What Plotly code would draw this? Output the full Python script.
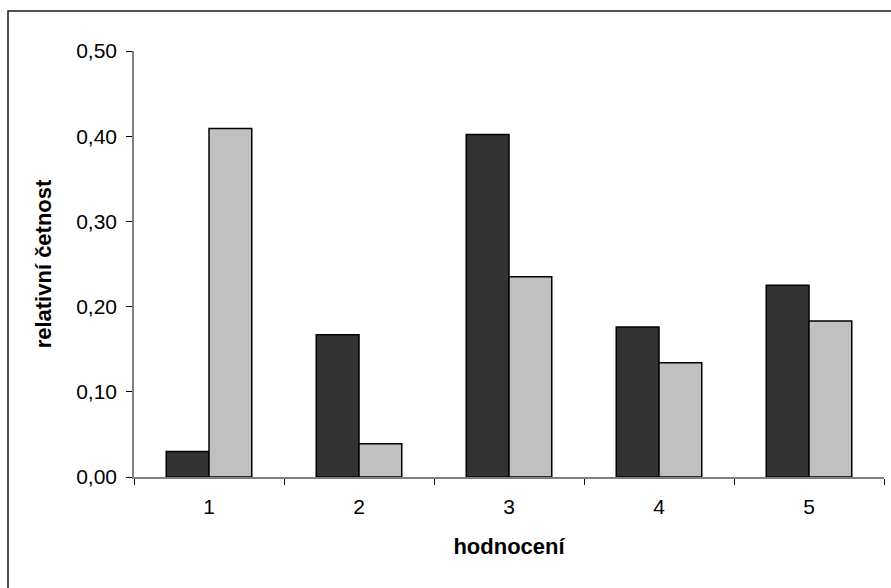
import plotly.graph_objects as go

categories = ["1", "2", "3", "4", "5"]
series_dark = [0.030, 0.167, 0.402, 0.176, 0.225]
series_light = [0.409, 0.039, 0.235, 0.134, 0.183]
y_ticks = [0.0, 0.1, 0.2, 0.3, 0.4, 0.5]

W, H = 891, 588
L, R, T, B = 134, 7, 51, 111
pw, ph = W - L - R, H - T - B

fig = go.Figure()
fig.add_trace(go.Bar(x=categories, y=series_dark, marker=dict(color="#333333", line=dict(color="#000000", width=1.5)), showlegend=False))
fig.add_trace(go.Bar(x=categories, y=series_light, marker=dict(color="#C0C0C0", line=dict(color="#000000", width=1.5)), showlegend=False))

tick_font = dict(family="Liberation Sans, Arial, sans-serif", size=21, color="#000000")
title_font = dict(family="Liberation Sans, Arial, sans-serif", size=22, color="#000000")

def px_x(p):
    return (p - L) / pw

def px_y(p):
    return (H - B - p) / ph

fig.update_layout(
    width=W, height=H,
    margin=dict(l=L, r=R, t=T, b=B, pad=0),
    paper_bgcolor="white", plot_bgcolor="white",
    barmode="group", bargap=0.43, bargroupgap=0.0,
    separators=", ",
    font=tick_font,
    xaxis=dict(type="category", showline=True, linecolor="#808080", linewidth=1.5,
               ticks="outside", tickson="boundaries", ticklen=6, tickcolor="#000000",
               showgrid=False, tickfont=tick_font, ticklabelstandoff=10,
               title=dict(text="<b>hodnocení</b>", font=title_font, standoff=22)),
    yaxis=dict(range=[0, 0.5], tickvals=y_ticks, tickformat=".2f", showline=True,
               linecolor="#808080", linewidth=1.5, ticks="outside", ticklen=6, tickcolor="#000000",
               showgrid=False, zeroline=False, tickfont=tick_font, ticklabelstandoff=5,
               title=dict(text="<b>relativní četnost</b>", font=title_font, standoff=18)),
    shapes=[dict(type="rect", xref="paper", yref="paper",
                 x0=px_x(8), x1=px_x(900), y0=px_y(600), y1=px_y(11),
                 line=dict(color="#1a1a1a", width=1.5), fillcolor="rgba(0,0,0,0)", layer="below")],
)

fig.write_html("out.html")
